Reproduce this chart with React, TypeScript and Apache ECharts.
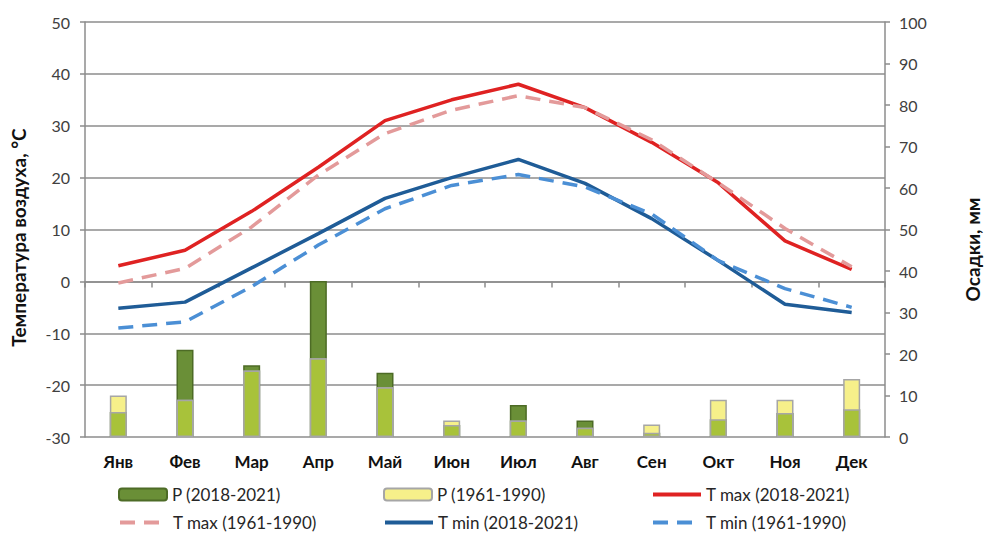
import React, { useEffect, useRef } from "react";
import * as echarts from "echarts";

const months = ["Янв", "Фев", "Мар", "Апр", "Май", "Июн", "Июл", "Авг", "Сен", "Окт", "Ноя", "Дек"];
const pNew = [6, 21, 17.3, 37.6, 15.5, 2.9, 7.7, 4, 1, 4.3, 5.8, 6.7];
const pOld = [10, 9, 16, 19, 12, 4, 4, 2.2, 3, 9, 9, 14];
const tMaxNew = [3, 6, 13.5, 22, 31, 35, 38, 33.5, 26.8, 19, 7.8, 2.3];
const tMaxOld = [-0.3, 2.5, 10.5, 20.5, 28.5, 33, 35.8, 33.5, 27.3, 19, 10.2, 2.8];
const tMinNew = [-5.2, -4, 2.6, 9.2, 16, 20, 23.5, 18.9, 12.1, 4, -4.4, -6];
const tMinOld = [-9, -7.8, -1, 7, 14, 18.5, 20.6, 18.2, 13, 4, -1.4, -5];

const N_PNEW = "P (2018-2021)";
const N_POLD = "P (1961-1990)";
const N_TMAXNEW = "T max (2018-2021)";
const N_TMAXOLD = "T max (1961-1990)";
const N_TMINNEW = "T min (2018-2021)";
const N_TMINOLD = "T min (1961-1990)";

const FONT = "Lato, 'Open Sans', sans-serif";

export default function App() {
  const ref = useRef<HTMLDivElement>(null);
  useEffect(() => {
    if (!ref.current) return;
    const chart = echarts.init(ref.current, null, { renderer: "svg" });
    const overlap = pNew.map((v, i) => Math.min(v, pOld[i]));
    const legendText = { fontFamily: FONT, fontSize: 17, color: "#262626", lineHeight: 16 };
    const mkLegend = (name: string, left: number, top: number, isLine: boolean) => {
      const base: any = {
        data: [isLine ? { name, itemStyle: { opacity: 0 } } : name],
        left,
        top,
        itemWidth: 48,
        itemHeight: 12,
        itemGap: 4,
        textStyle: legendText,
        selectedMode: false,
        padding: 0,
      };
      if (isLine) base.lineStyle = { width: 4 };
      return base;
    };
    const axisLine = { show: true, lineStyle: { color: "#8c8c8c", width: 1.5 } };
    const lineSeries = (name: string, data: number[], color: string, dashed: boolean) => ({
      name,
      type: "line",
      yAxisIndex: 0,
      data,
      symbol: "none",
      showSymbol: false,
      z: 5,
      lineStyle: { color, width: 3.5, type: dashed ? [15, 9] : "solid" },
      itemStyle: { color: "rgba(0,0,0,0)", borderWidth: 0 },
    });
    chart.setOption({
      animation: false,
      grid: { left: 85, right: 97, top: 22, bottom: 101 },
      legend: [
        mkLegend(N_PNEW, 118, 486, false),
        mkLegend(N_POLD, 383, 486, false),
        mkLegend(N_TMAXNEW, 651, 486, true),
        mkLegend(N_TMAXOLD, 118, 514, true),
        mkLegend(N_TMINNEW, 383, 514, true),
        mkLegend(N_TMINOLD, 651, 514, true),
      ],
      xAxis: {
        type: "category",
        data: months,
        boundaryGap: true,
        axisLine,
        axisTick: { show: true, length: 6, lineStyle: { color: "#8c8c8c", width: 1.5 } },
        axisLabel: { fontFamily: FONT, fontSize: 17, fontWeight: "bold", color: "#111", margin: 16 },
      },
      yAxis: [
        {
          type: "value",
          min: -30,
          max: 50,
          interval: 10,
          position: "left",
          name: "Температура воздуха, °C",
          nameLocation: "middle",
          nameRotate: 90,
          nameGap: 57,
          nameTextStyle: {
            fontFamily: FONT,
            fontSize: 19,
            fontWeight: "bold",
            color: "#111",
            padding: [0, 16, 0, 0],
          },
          axisLine,
          axisTick: { show: true, length: 5, lineStyle: { color: "#8c8c8c", width: 1.5 } },
          axisLabel: { fontFamily: FONT, fontSize: 16, color: "#404040", margin: 15 },
          splitLine: { show: true, lineStyle: { color: "#8c8c8c", width: 1.5 } },
        },
        {
          type: "value",
          min: 0,
          max: 100,
          interval: 10,
          position: "right",
          name: "Осадки, мм",
          nameLocation: "middle",
          nameRotate: 90,
          nameGap: 78,
          nameTextStyle: {
            fontFamily: FONT,
            fontSize: 19,
            fontWeight: "bold",
            color: "#111",
            padding: [0, 40, 0, 0],
          },
          axisLine,
          axisTick: { show: true, length: 5, lineStyle: { color: "#8c8c8c", width: 1.5 } },
          axisLabel: { fontFamily: FONT, fontSize: 16, color: "#404040", margin: 14 },
          splitLine: { show: false },
        },
      ],
      series: [
        {
          name: N_PNEW,
          type: "bar",
          yAxisIndex: 1,
          data: pNew,
          barWidth: 17,
          barGap: "-100%",
          itemStyle: { color: "#6a8f37", borderColor: "#4d6b26", borderWidth: 1.5 },
          z: 2,
        },
        {
          name: N_POLD,
          type: "bar",
          yAxisIndex: 1,
          data: pOld,
          barWidth: 17,
          barGap: "-100%",
          itemStyle: { color: "#f6f08a", borderColor: "#a6a6a6", borderWidth: 1.5 },
          z: 3,
        },
        {
          name: "overlap",
          type: "bar",
          yAxisIndex: 1,
          data: overlap,
          barWidth: 17,
          barGap: "-100%",
          itemStyle: { color: "#a8c23a", borderColor: "#a6a6a6", borderWidth: 1.5 },
          z: 4,
        },
        lineSeries(N_TMAXNEW, tMaxNew, "#df2222", false),
        lineSeries(N_TMAXOLD, tMaxOld, "#e39a9a", true),
        lineSeries(N_TMINNEW, tMinNew, "#1f5c97", false),
        lineSeries(N_TMINOLD, tMinOld, "#4b8fd5", true),
      ],
    });
    return () => chart.dispose();
  }, []);
  return (
    <div
      ref={ref}
      style={{ position: "fixed", left: 0, top: 0, width: 990, height: 538, background: "#fff" }}
    />
  );
}
